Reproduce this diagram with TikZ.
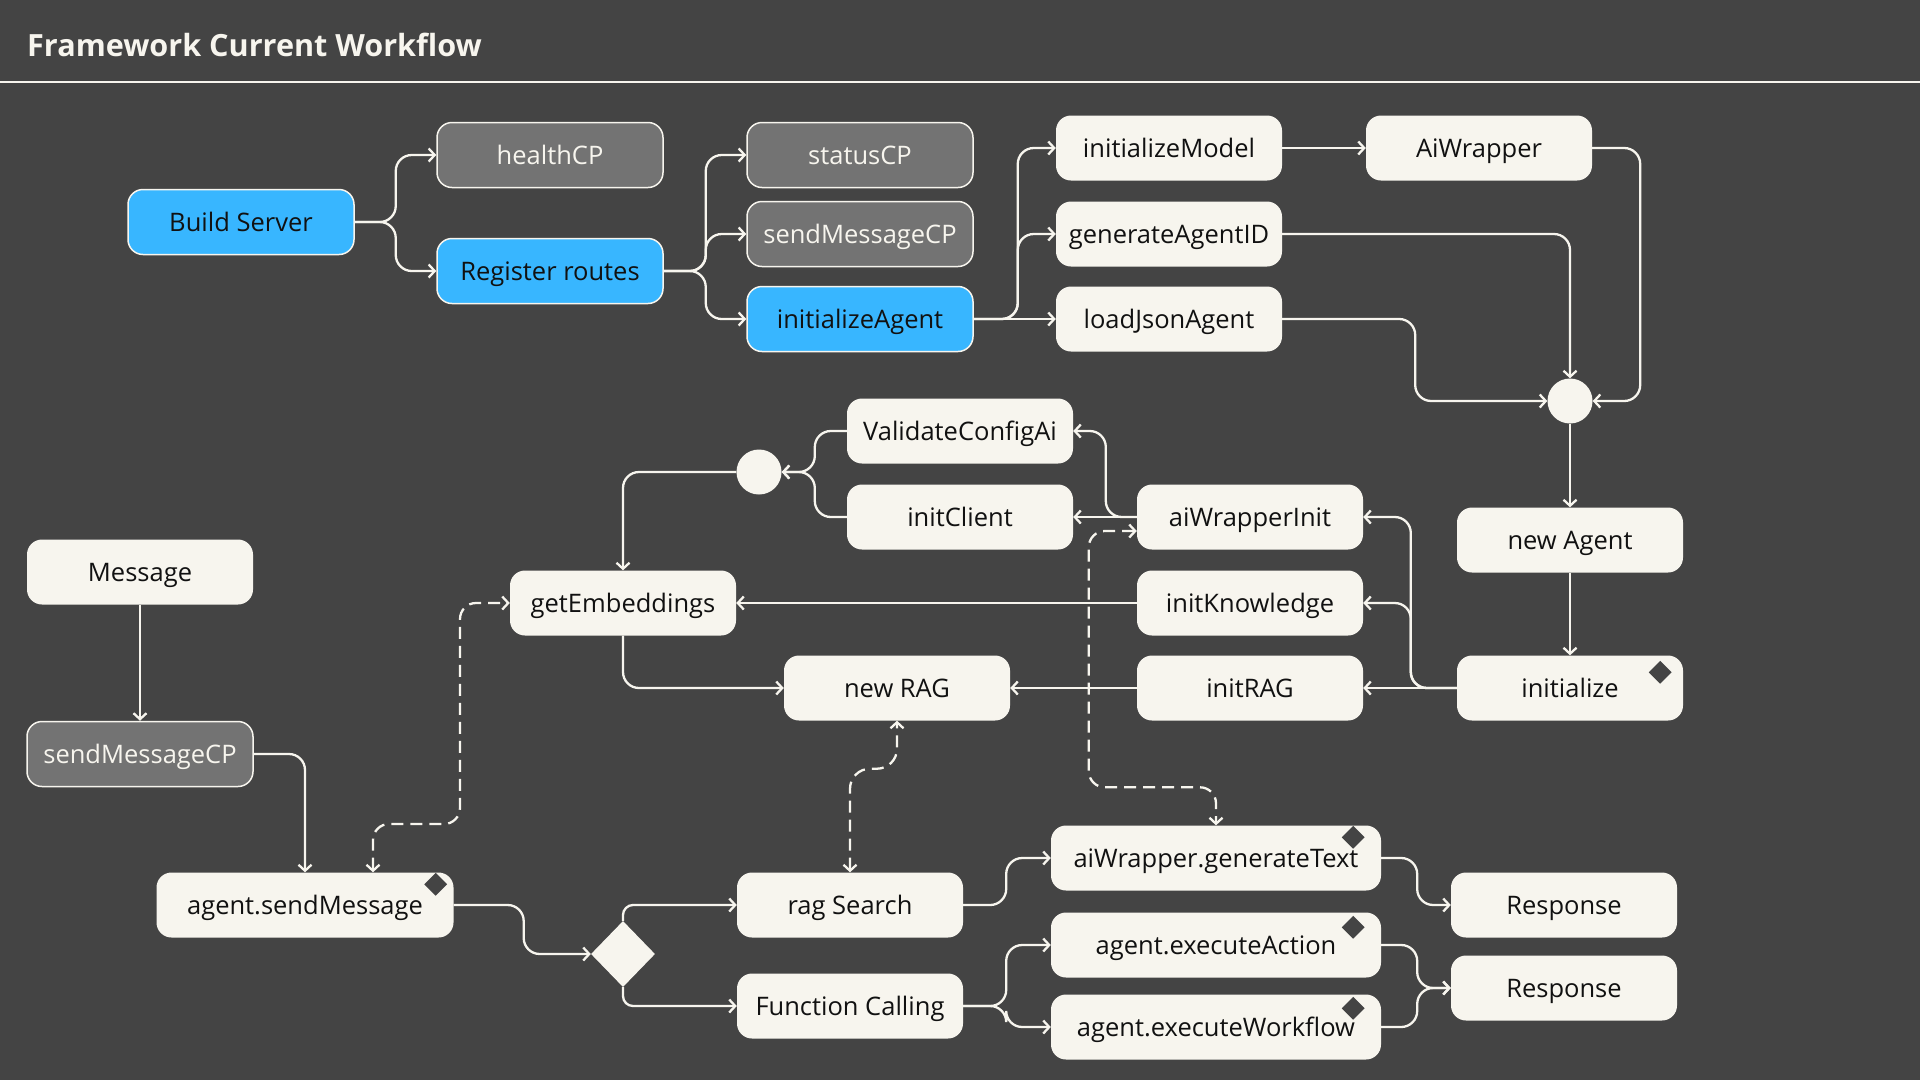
\documentclass[tikz,border=0pt]{standalone}
\usepackage{fontspec}
\setmainfont{Open Sans}
\usetikzlibrary{arrows.meta,shapes.geometric,calc}
\definecolor{bg}{HTML}{444444}
\definecolor{cream}{HTML}{F7F5EE}
\definecolor{sky}{HTML}{38B6FF}
\definecolor{grayn}{HTML}{737373}
\definecolor{ink}{HTML}{111111}
\begin{document}
\begin{tikzpicture}[x=1pt,y=-1pt,
  box/.style={rounded corners=15pt, minimum width=226pt, minimum height=65pt, inner sep=0pt,
    text height=18.4pt, text depth=0pt,
    fill=cream, text=ink, font=\fontsize{25.5}{30}\selectfont},
  bluebox/.style={box, fill=sky, draw=cream, line width=1.5pt},
  graybox/.style={box, fill=grayn, draw=cream, line width=1.5pt, text=cream},
  widebox/.style={box, minimum width=297pt},
  xwidebox/.style={box, minimum width=330pt},
  joint/.style={circle, fill=cream, minimum size=45pt, inner sep=0pt},
  cornermark/.style={diamond, fill=bg, minimum size=23pt, inner sep=0pt},
  conn/.style={draw=cream, line width=2.3pt, rounded corners=16pt,
    -{Straight Barb[length=6pt,width=13pt]}},
  dconn/.style={draw=cream, line width=2.3pt, rounded corners=16pt, dash pattern=on 12pt off 7pt,
    {Straight Barb[length=6pt,width=13pt]}-{Straight Barb[length=6pt,width=13pt]}},
]
\fill[bg] (0,0) rectangle (1920,1080);
\useasboundingbox (0,0) rectangle (1920,1080);

% title
\node[anchor=west, text=cream, inner sep=0pt, font=\bfseries\fontsize{30.6}{36}\selectfont] (title) at (27,45) {Framework Current Workflow};
\draw[cream, line width=2pt] (0,82) -- (1920,82);

% nodes
\node[bluebox] (bs) at (241,222) {Build Server};
\node[graybox] (hc) at (550,155) {healthCP};
\node[bluebox] (rr) at (550,271) {Register routes};
\node[graybox] (sc) at (860,155) {statusCP};
\node[graybox] (smcpa) at (860,234) {sendMessageCP};
\node[bluebox] (ia) at (860,319) {initializeAgent};
\node[box] (im) at (1169,148) {initializeModel};
\node[box] (aw) at (1479,148) {AiWrapper};
\node[box] (gid) at (1169,234) {generateAgentID};
\node[box] (lja) at (1169,319) {loadJsonAgent};
\node[joint] (ja) at (1570,401) {};
\node[box] (na) at (1570,540) {new Agent};
\node[box] (ini) at (1570,688) {initialize};
\node[cornermark] at ($(ini.north east)+(-23,17)$) {};
\node[box] (awi) at (1250,517) {aiWrapperInit};
\node[box] (ik) at (1250,603) {initKnowledge};
\node[box] (ir) at (1250,688) {initRAG};
\node[box] (vc) at (960,431) {ValidateConfigAi};
\node[box] (ic) at (960,517) {initClient};
\node[joint] (jb) at (759,472) {};
\node[box] (ge) at (623,603) {getEmbeddings};
\node[box] (nr) at (897,688) {new RAG};
\node[box] (msg) at (140,572) {Message};
\node[graybox] (smcpb) at (140,754) {sendMessageCP};
\node[widebox] (asm) at (305,905) {agent.sendMessage};
\node[cornermark] at ($(asm.north east)+(-18,12)$) {};
\node[diamond, fill=cream, minimum width=64pt, minimum height=66pt, inner sep=0pt] (dec) at (623,954) {};
\node[box] (rs) at (850,905) {rag Search};
\node[box] (fc) at (850,1006) {Function Calling};
\node[xwidebox] (gt) at (1216,858) {aiWrapper.generateText};
\node[cornermark] at ($(gt.north east)+(-28,12)$) {};
\node[xwidebox] (ea) at (1216,945) {agent.executeAction};
\node[cornermark] at ($(ea.north east)+(-28,15)$) {};
\node[xwidebox] (ew) at (1216,1027) {agent.executeWorkflow};
\node[cornermark] at ($(ew.north east)+(-28,14)$) {};
\node[box] (ra) at (1564,905) {Response};
\node[box] (rb) at (1564,988) {Response};

% connectors
\draw[conn] (bs.east) -- ++(41,0) |- (hc.west);
\draw[conn] (bs.east) -- ++(41,0) |- (rr.west);
\draw[conn] (rr.east) -- ++(42,0) |- (sc.west);
\draw[conn] (rr.east) -- ++(42,0) |- (smcpa.west);
\draw[conn] (rr.east) -- ++(42,0) |- (ia.west);
\draw[conn] (ia.east) -- ++(44,0) |- (im.west);
\draw[conn] (ia.east) -- ++(44,0) |- (gid.west);
\draw[conn] (ia.east) -- (lja.west);
\draw[conn] (im.east) -- (aw.west);
\draw[conn] (aw.east) -- ++(48,0) |- (ja.east);
\draw[conn] (gid.east) -| (ja.north);
\draw[conn] (lja.east) -- ++(133,0) |- (ja.west);
\draw[conn] (ja.south) -- (na.north);
\draw[conn] (na.south) -- (ini.north);
\draw[conn] (ini.west) -- ++(-46,0) |- (awi.east);
\draw[conn] (ini.west) -- ++(-46,0) |- (ik.east);
\draw[conn] (ini.west) -- (ir.east);
\draw[conn] (awi.west) -- ++(-31,0) |- (vc.east);
\draw[conn] (awi.west) -- (ic.east);
\draw[conn] (vc.west) -- ++(-32,0) |- (jb.east);
\draw[conn] (ic.west) -- ++(-32,0) |- (jb.east);
\draw[conn] (jb.west) -| (ge.north);
\draw[conn] (ik.west) -- (ge.east);
\draw[conn] (ge.south) |- (nr.west);
\draw[conn] (ir.west) -- (nr.east);
\draw[conn] (msg.south) -- (smcpb.north);
\draw[conn] (smcpb.east) -| (asm.north);
\draw[conn] (asm.east) -- ++(70,0) |- (dec.west);
\draw[conn, rounded corners=10pt] (dec.north) |- (rs.west);
\draw[conn, rounded corners=10pt] (dec.south) |- (fc.west);
\draw[conn] (rs.east) -- ++(43,0) |- (gt.west);
\draw[conn] (fc.east) -- ++(43,0) |- (ea.west);
\draw[conn] (fc.east) -- ++(43,0) |- (ew.west);
\draw[conn] (gt.east) -- ++(36,0) |- (ra.west);
\draw[conn] (ea.east) -- ++(36,0) |- (rb.west);
\draw[conn] (ew.east) -- ++(36,0) |- (rb.west);

% dashed connectors
\coordinate (asmtop) at ($(asm.north)+(68,0)$);
\draw[dconn] (asmtop) |- (460,824) |- (ge.west);
\draw[dconn, rounded corners=20pt] (rs.north) |- ($(nr.south)+(0,48)$) -- (nr.south);
\coordinate (awiw) at ($(awi.west)+(0,14)$);
\draw[dconn] (awiw) -- ++(-48,0) |- ($(gt.north)+(0,-38)$) -- (gt.north);
\end{tikzpicture}
\end{document}
